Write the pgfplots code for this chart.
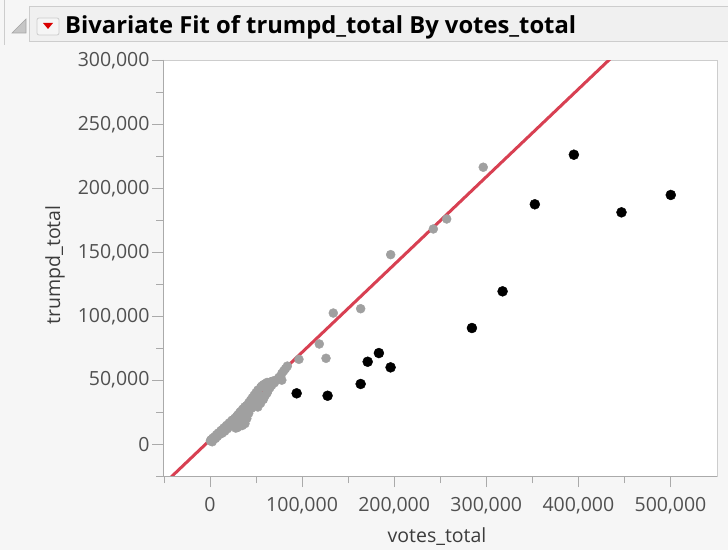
\documentclass[border=0pt]{standalone}
\usepackage{graphicx}
\usepackage{pgfplots}
\pgfplotsset{compat=1.18}
\usepackage{fontspec}
\setmainfont{Open Sans}
\definecolor{outerbg}{RGB}{246,246,246}
\definecolor{barbg}{RGB}{240,240,240}
\definecolor{barline}{RGB}{205,205,205}
\definecolor{tickgray}{RGB}{80,80,80}
\definecolor{labgray}{RGB}{60,60,60}
\definecolor{ptgray}{RGB}{160,160,160}
\definecolor{fitred}{RGB}{216,64,82}
\definecolor{framegray}{RGB}{170,170,170}

\pgfplotstableread{
x y
500 2500
1000 3200
2000 3600
2500 1800
3000 4600
4000 3800
5000 5600
6000 4400
7000 7200
8000 6000
9000 8600
10000 7400
11000 9200
12000 10600
13000 8400
14000 11200
15000 12600
16000 10000
17000 13200
18000 14600
19000 12000
20000 15200
21000 16600
22000 14000
23000 17200
24000 18600
25000 15400
26000 19200
27000 20200
28000 17400
29000 21600
30000 22600
31000 19400
32000 24200
33000 25200
34000 21000
35000 26600
36000 27600
37000 23400
38000 29200
40000 30200
41000 27000
42000 32200
44000 34200
45000 31000
46000 36200
48000 38200
49000 35000
50000 40200
52000 42200
53000 38000
55000 44200
56000 45200
58000 46400
60000 47200
62000 48200
64000 47600
66000 48600
68000 49200
70000 48000
72000 50200
75000 52200
78000 55200
80000 57200
82000 59000
84000 61000
30000 13000
33000 15000
36000 17000
32000 18000
28000 12500
35000 14500
38000 16000
40000 20000
42000 24000
47000 30000
52000 29000
55000 32000
58000 35000
56000 36000
50000 31000
60000 38000
62000 40000
63000 42000
45000 28000
65000 44000
67000 46000
78000 50000
96600 66300
118700 78300
126000 67100
133900 102500
163600 105900
196200 148200
242500 168300
257000 176100
296700 216600
}\greypts

\pgfplotstableread{
x y
94100 39700
127700 37800
163600 47000
171200 64400
183400 71200
196100 60000
284400 90800
317700 119500
352700 187600
395100 226400
446800 181300
500300 194900
}\blackpts

\pgfplotstableread{
x y
-60000 -38034
460000 318894
}\fitline

\begin{document}
\begin{tikzpicture}
\useasboundingbox (0pt,0pt) rectangle (728pt,550pt);
\fill[outerbg] (0pt,0pt) rectangle (728pt,550pt);
% left faint line
\draw[barline, line width=1pt] (4pt,550pt) -- (4pt,505pt);
% title bar
\fill[barbg] (29pt,508pt) rectangle (730pt,543.3pt);
\draw[barline, line width=1pt] (730pt,543.3pt) -- (29pt,543.3pt) -- (29pt,508pt) -- (730pt,508pt);
% disclosure triangle
\fill[gray!45, draw=gray!70, line width=0.6pt] (12pt,517pt) -- (26pt,517pt) -- (26pt,531pt) -- cycle;
% red triangle button
\fill[white!92!gray, draw=barline, line width=0.8pt, rounded corners=2pt] (37pt,515pt) rectangle (59pt,532pt);
\fill[red!85!black] (43pt,527pt) -- (53pt,527pt) -- (48pt,521pt) -- cycle;
% title
\node[anchor=base west, inner sep=0pt] at (65pt,516.5pt) {\resizebox{511pt}{\height}{\bfseries\fontsize{23.5}{28}\selectfont Bivariate Fit of trumpd\_total By votes\_total}};

\begin{axis}[
  at={(163pt,74pt)}, anchor=south west,
  width=554pt, height=416pt, scale only axis,
  xmin=-51000, xmax=550500, ymin=-25000, ymax=300500,
  axis background/.style={fill=white},
  axis line style={draw=barline, line width=0.8pt},
  tick pos=left, tick align=outside,
  xtick={0,100000,200000,300000,400000,500000},
  minor xtick={-50000,50000,150000,250000,350000,450000},
  ytick={0,50000,100000,150000,200000,250000,300000},
  minor ytick={-25000,25000,75000,125000,175000,225000,275000},
  major tick length=11pt, minor tick length=7pt,
  every tick/.style={draw=framegray, line width=0.8pt},
  scaled ticks=false,
  /pgf/number format/.cd, fixed, 1000 sep={,}, assume math mode=true,
  /pgfplots/.cd,
  ticklabel style={font=\fontsize{19.5}{20}\selectfont, text=tickgray},
  xticklabel style={yshift=-7pt},
  yticklabel style={xshift=1pt},
  clip=true,
]
\addplot[only marks, mark=*, mark size=4.5pt, color=ptgray] table {\greypts};
\addplot[only marks, mark=*, mark size=5pt, color=black] table {\blackpts};
\addplot[fitred, line width=3pt] table {\fitline};
\end{axis}
% darker left and bottom axis lines
\draw[framegray, line width=0.9pt] (163pt,490pt) -- (163pt,74pt) -- (717pt,74pt);
% axis titles
\node[text=labgray, font=\fontsize{19.5}{20}\selectfont, anchor=base] at (437pt,8pt) {votes\_total};
\node[text=labgray, font=\fontsize{19.5}{20}\selectfont, rotate=90, anchor=base] at (60pt,285pt) {trumpd\_total};
\end{tikzpicture}
\end{document}
